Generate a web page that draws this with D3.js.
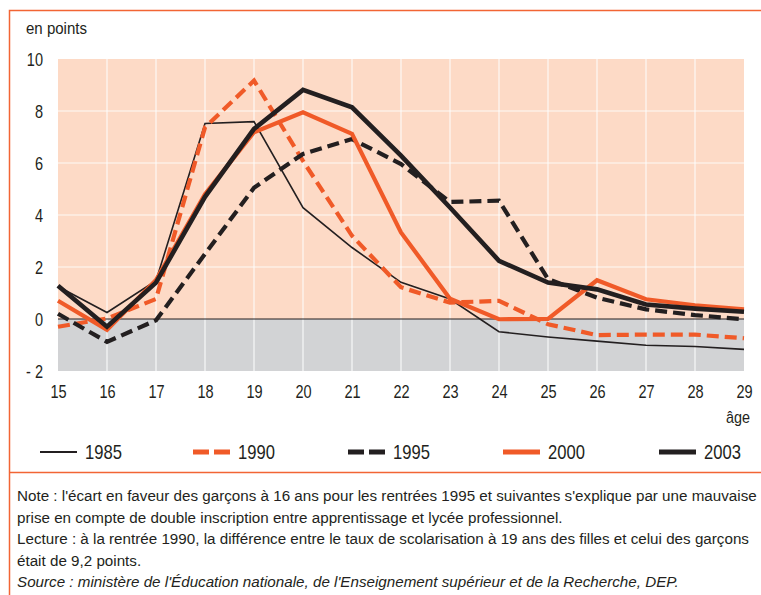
<!DOCTYPE html>
<html>
<head>
<meta charset="utf-8">
<script src="https://cdn.jsdelivr.net/npm/d3@7"></script>
<style>
	body { margin: 0; background: #fff; }
	svg { display: block; }
	text { font-family: "Liberation Sans", Arial, sans-serif; fill: #231f20; }
</style>
</head>
<body>
<svg id="chart" width="761" height="595"></svg>
<script>
	var ages = [15, 16, 17, 18, 19, 20, 21, 22, 23, 24, 25, 26, 27, 28, 29];
	var yTicks = [-2, 0, 2, 4, 6, 8, 10];
	var years = ["1985", "1990", "1995", "2000", "2003"];

	var v1985 = [1.25, 0.25, 1.47, 7.52, 7.59, 4.28, 2.75, 1.41, 0.77, -0.49, -0.69, -0.85, -1.01, -1.06, -1.17];
	var v1990 = [-0.3, 0.02, 0.77, 7.37, 9.17, 6.08, 3.2, 1.22, 0.63, 0.7, -0.2, -0.62, -0.6, -0.6, -0.74];
	var v1995 = [0.2, -0.88, -0.05, 2.5, 5.05, 6.35, 6.92, 5.96, 4.5, 4.55, 1.54, 0.82, 0.37, 0.15, -0.01];
	var v2000 = [0.7, -0.42, 1.5, 4.8, 7.18, 7.95, 7.12, 3.33, 0.78, -0.01, 0.0, 1.49, 0.76, 0.53, 0.37];
	var v2003 = [1.28, -0.3, 1.4, 4.7, 7.31, 8.81, 8.14, 6.28, 4.29, 2.24, 1.4, 1.14, 0.56, 0.4, 0.28];

	var noteLines = [
		"Note : l'écart en faveur des garçons à 16 ans pour les rentrées 1995 et suivantes s'explique par une mauvaise",
		"prise en compte de double inscription entre apprentissage et lycée professionnel.",
		"Lecture : à la rentrée 1990, la différence entre le taux de scolarisation à 19 ans des filles et celui des garçons",
		"était de 9,2 points."
	];
	var sourceLine = "Source : ministère de l'Éducation nationale, de l'Enseignement supérieur et de la Recherche, DEP.";

	var ORANGE = "#f05a28";
	var BLACK = "#231f20";
	var NARROW = 0.83;

	var styles = {
		"1985": { color: BLACK, width: 1.6, legWidth: 2, dash: null },
		"1990": { color: ORANGE, width: 4.2, legWidth: 5, dash: "12,6" },
		"1995": { color: BLACK, width: 4.2, legWidth: 5, dash: "12,6" },
		"2000": { color: ORANGE, width: 4.2, legWidth: 5, dash: null },
		"2003": { color: BLACK, width: 4.6, legWidth: 5, dash: null }
	};
	var series = [
		{ year: "1985", values: v1985 },
		{ year: "1990", values: v1990 },
		{ year: "1995", values: v1995 },
		{ year: "2000", values: v2000 },
		{ year: "2003", values: v2003 }
	];

	var svg = d3.select("#chart");

	// cadre
	svg.append("path")
		.attr("d", "M 761,10.5 H 9.5 V 595")
		.attr("fill", "none")
		.attr("stroke", "#f26534")
		.attr("stroke-width", 1.5);
	svg.append("line")
		.attr("x1", 9.5).attr("x2", 761)
		.attr("y1", 472.5).attr("y2", 472.5)
		.attr("stroke", "#f26534")
		.attr("stroke-width", 1.5);

	var x = d3.scaleLinear().domain([15, 29]).range([58, 744]);
	var y = d3.scaleLinear().domain([-2, 10]).range([371, 59]);

	var g = svg.append("g");

	g.append("rect")
		.attr("x", x(15)).attr("y", y(10))
		.attr("width", x(29) - x(15)).attr("height", y(0) - y(10))
		.attr("fill", "#fddac6");
	g.append("rect")
		.attr("x", x(15)).attr("y", y(0))
		.attr("width", x(29) - x(15)).attr("height", y(-2) - y(0))
		.attr("fill", "#d2d3d5");

	// grille
	g.selectAll(".vgrid")
		.data(ages.slice(1, -1))
		.enter().append("line")
		.attr("x1", function (d) { return x(d); })
		.attr("x2", function (d) { return x(d); })
		.attr("y1", y(10)).attr("y2", y(-2))
		.attr("stroke", "#fff")
		.attr("stroke-width", 1.2)
		.attr("opacity", 0.85);
	g.selectAll(".hgrid")
		.data([2, 4, 6, 8])
		.enter().append("line")
		.attr("x1", x(15)).attr("x2", x(29))
		.attr("y1", function (d) { return y(d); })
		.attr("y2", function (d) { return y(d); })
		.attr("stroke", "#fff")
		.attr("stroke-width", 1.2)
		.attr("opacity", 0.85);
	g.append("line")
		.attr("x1", x(15)).attr("x2", x(29))
		.attr("y1", y(0)).attr("y2", y(0))
		.attr("stroke", BLACK)
		.attr("stroke-width", 1);

	// axes
	var yAxis = d3.axisLeft(y).tickValues(yTicks).tickSize(0).tickPadding(15)
		.tickFormat(function (d) { return d < 0 ? "- " + Math.abs(d) : d; });
	var ya = g.append("g").attr("transform", "translate(" + x(15) + ",0)").call(yAxis);
	ya.select(".domain").remove();
	ya.selectAll("text")
		.attr("font-size", 17.5)
		.attr("x", -15 / NARROW)
		.attr("dy", "0.36em")
		.attr("transform", "scale(" + NARROW + ",1)");

	var xAxis = d3.axisBottom(x).tickValues(ages).tickSize(0);
	var xa = g.append("g").attr("transform", "translate(0," + y(-2) + ")").call(xAxis);
	xa.select(".domain").remove();
	xa.selectAll("text")
		.attr("font-size", 17.5)
		.attr("y", 27).attr("dy", null)
		.attr("transform", "scale(" + NARROW + ",1)");

	svg.append("text").attr("x", 26).attr("y", 34).attr("font-size", 16)
		.attr("transform", "translate(26,0) scale(0.94,1) translate(-26,0)")
		.text("en points");
	svg.append("text").attr("x", 0).attr("y", 0).attr("font-size", 16).attr("text-anchor", "end")
		.attr("transform", "translate(750,423) scale(0.9,1)")
		.text("âge");

	// courbes
	var line = d3.line()
		.x(function (d, i) { return x(ages[i]); })
		.y(function (d) { return y(d); });

	g.selectAll(".serie")
		.data(series)
		.enter().append("path")
		.attr("class", "serie")
		.attr("d", function (d) { return line(d.values); })
		.attr("fill", "none")
		.attr("stroke", function (d) { return styles[d.year].color; })
		.attr("stroke-width", function (d) { return styles[d.year].width; })
		.attr("stroke-dasharray", function (d) { return styles[d.year].dash; })
		.attr("stroke-linejoin", "miter");

	// légende
	var legendX = [40, 193, 348, 503, 659];
	var leg = svg.selectAll(".leg")
		.data(series)
		.enter().append("g")
		.attr("transform", function (d, i) { return "translate(" + legendX[i] + ",452)"; });
	leg.append("line")
		.attr("x1", 0).attr("x2", 37)
		.attr("y1", 0).attr("y2", 0)
		.attr("stroke", function (d) { return styles[d.year].color; })
		.attr("stroke-width", function (d) { return styles[d.year].legWidth; })
		.attr("stroke-dasharray", function (d) { return styles[d.year].dash ? "16,5" : null; });
	leg.append("text")
		.attr("x", 0).attr("y", 0).attr("dy", "0.36em")
		.attr("font-size", 20)
		.attr("transform", "translate(45,0) scale(" + NARROW + ",1)")
		.text(function (d) { return d.year; });

	// notes
	var notes = svg.append("g");
	notes.selectAll(".note")
		.data(noteLines)
		.enter().append("text")
		.attr("class", "note")
		.attr("x", 0)
		.attr("y", function (d, i) { return 501 + i * 21.6; })
		.attr("font-size", 15.5)
		.text(function (d) { return d; });
	notes.append("text")
		.attr("x", 0).attr("y", 501 + 4 * 21.6)
		.attr("font-size", 15.5)
		.attr("font-style", "italic")
		.text(sourceLine);
	var w = notes.select(".note").node().getComputedTextLength();
	notes.attr("transform", "translate(17,0) scale(" + (740 / w) + ",1)");
</script>
</body>
</html>
